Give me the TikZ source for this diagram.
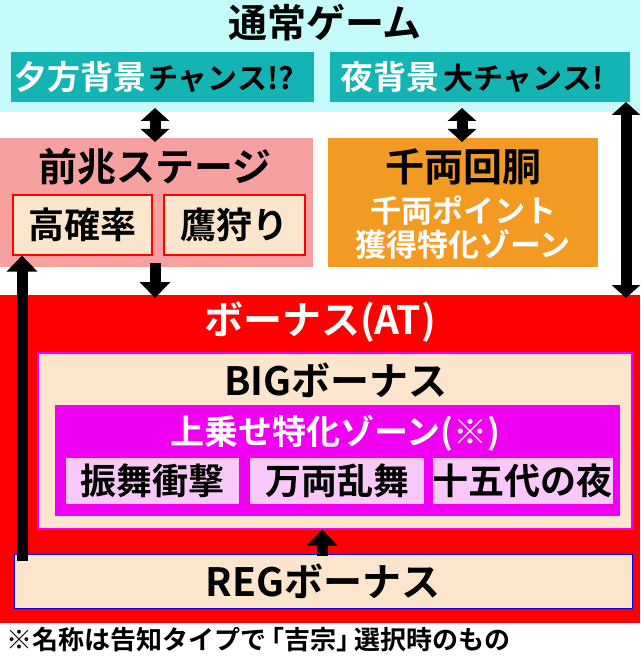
\documentclass[tikz,border=0pt]{standalone}
\usepackage{fontspec}
\setmainfont{Noto Sans CJK JP Bold}
\usetikzlibrary{arrows.meta}
\definecolor{cyanbg}{HTML}{C4FAFA}
\definecolor{teal2}{HTML}{14B4B4}
\definecolor{pinkbg}{HTML}{F7A0A0}
\definecolor{beige}{HTML}{FBE5CC}
\definecolor{orng}{HTML}{F39A22}
\definecolor{redbg}{HTML}{FF0000}
\definecolor{mag}{HTML}{F000F0}
\definecolor{lpink}{HTML}{F8C8F8}
\tikzset{
 bx/.style={inner sep=0pt},
 blk/.style={line width=11pt,-{Triangle[length=16pt,width=30pt]}},
 dblk/.style={line width=11pt,{Triangle[length=13pt,width=28pt]}-{Triangle[length=13pt,width=28pt]}},
 ttl/.style={font=\fontsize{39}{39}\selectfont},
 sub/.style={font=\fontsize{36}{36}\selectfont},
}
\begin{document}
\begin{tikzpicture}[x=1pt,y=-1pt]
\useasboundingbox (0,0) rectangle (640,658);
\fill[white] (0,0) rectangle (640,658);
% top
\fill[cyanbg] (0,0) rectangle (640,112);
\node[ttl,inner sep=0pt] (tsujo) at (325,23) {通常ゲーム};
\fill[teal2] (11,52) rectangle (314,102);
\node[anchor=west,inner sep=0pt,font=\fontsize{33}{33}\selectfont] (yu) at (14,77) {\textcolor{white}{夕方背景}\kern2pt{\fontsize{30}{30}\selectfont チャンス!?}};
\fill[teal2] (330,52) rectangle (630,102);
\node[anchor=west,inner sep=0pt,font=\fontsize{33}{33}\selectfont] (yoru) at (340,77) {\textcolor{white}{夜背景}\kern4pt{\fontsize{30}{30}\selectfont 大チャンス!}};
\coordinate (yub) at (155,108);
\coordinate (yorub) at (462,108);
% zencho
\fill[pinkbg] (0,138) rectangle (313,267);
\node[ttl,inner sep=0pt] (zen) at (155,167) {前兆ステージ};
\node[bx,draw=red,line width=1.2pt,fill=beige,minimum width=139pt,minimum height=60pt,sub] (koka) at (82.5,225) {高確率};
\node[bx,draw=red,line width=1.2pt,fill=beige,minimum width=141pt,minimum height=60pt,sub] (taka) at (234.5,225) {鷹狩り};
\coordinate (zent) at (155,142);
\coordinate (zenb) at (155,263);
% senryo
\fill[orng] (328,138) rectangle (598,267);
\node[ttl,inner sep=0pt] (sen) at (463,167) {千両回胴};
\node[align=center,text=white,inner sep=0pt,font=\fontsize{31}{34}\selectfont] (senp) at (463,228) {千両ポイント\\獲得特化ゾーン};
\coordinate (sent) at (462,142);
% red
\fill[redbg] (0,295) rectangle (640,623);
\node[ttl,text=white,inner sep=0pt] (bonus) at (320,322) {ボーナス(AT)};
\node[bx,draw=mag,line width=1.2pt,fill=beige,minimum width=594pt,minimum height=176pt] (big) at (335,441) {};
\node[ttl,inner sep=0pt] (bigt) at (336,380) {BIGボーナス};
\fill[mag] (55,405) rectangle (620,516);
\node[font=\fontsize{34}{34}\selectfont,text=white,inner sep=0pt] (uwa) at (335,433) {上乗せ特化ゾーン(※)};
\node[bx,fill=lpink,minimum width=173pt,minimum height=46pt,sub] (s1) at (152.5,481) {振舞衝撃};
\node[bx,fill=lpink,minimum width=174pt,minimum height=46pt,sub] (s2) at (337,481) {万両乱舞};
\node[bx,fill=lpink,minimum width=173pt,minimum height=46pt,sub] (s3) at (522.5,481) {十五代の夜};
\node[bx,draw=blue,line width=1pt,fill=beige,minimum width=618pt,minimum height=54pt,ttl] (reg) at (323,581) {REGボーナス};
\node[font=\fontsize{26}{26}\selectfont,anchor=west,inner sep=0pt] (note) at (6,640) {※名称は告知タイプで\kern-8pt「吉宗」\kern-8pt 選択時のもの};
% arrows
\draw[dblk] (yub) -- (zent);
\draw[dblk] (yorub) -- (sent);
\draw[dblk] (626,102) -- (626,298);
\draw[blk] (zenb) -- (155,298);
\draw[blk] (322,556) -- (big.south -| 322,0);
\draw[blk] (22,561) -- (koka.south -| 22,0);
\end{tikzpicture}
\end{document}
